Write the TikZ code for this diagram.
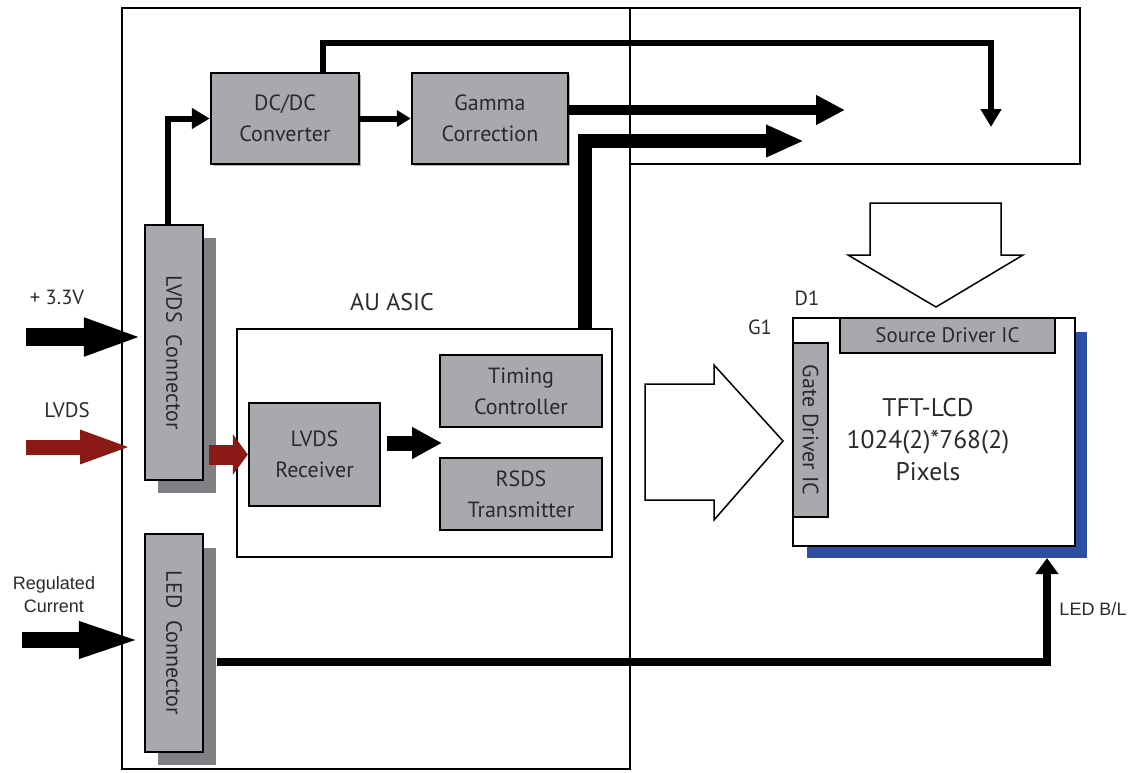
\documentclass[tikz,border=0pt]{standalone}
\usepackage{fontspec}
\setmainfont{PT Sans}
\newfontfamily\arialfont{Liberation Sans}
\usetikzlibrary{arrows.meta,calc}
\definecolor{boxgrey}{HTML}{A7A9AC}
\definecolor{shadegrey}{HTML}{7E8083}
\definecolor{lvdsred}{HTML}{8B1A17}
\definecolor{panelblue}{HTML}{2C4FA3}
\definecolor{txt}{HTML}{2A2A2A}
\begin{document}
\begin{tikzpicture}[x=1pt,y=-1pt,
  frame/.style={draw=black,line width=1.5pt},
  blk/.style={draw=black,line width=2.4pt,fill=boxgrey,align=center,inner sep=0pt,
    text=txt,font=\fontsize{22}{31}\selectfont},
  conn/.style={blk,rotate=-90,font=\fontsize{22}{24}\selectfont},
  lbl/.style={text=txt,inner sep=0pt,align=center},
  wire/.style={draw=black,line width=6pt},
  bigarr/.style={draw=black,line width=1.5pt,fill=white,line join=miter}
]
\useasboundingbox (0,0) rectangle (1138,772);

% frames
\draw[frame] (122,8) rectangle (630,769);
\draw[frame] (630,8) rectangle (1080,164);

% shadows
\fill[shadegrey] (158,238) rectangle (216,493);
\fill[shadegrey] (158,548) rectangle (216,765);
\fill[panelblue] (807,332) rectangle (1087,558);
\fill[black!30] (213,75) rectangle (361,166);
\fill[black!30] (414,75) rectangle (570,166);
\fill[black!30] (251,405) rectangle (382,508);
\fill[black!30] (442,357) rectangle (604,429);
\fill[black!30] (442,460) rectangle (604,532);

% blocks
\node[blk,minimum width=148,minimum height=91] (dcdc) at (285,118.5) {DC/DC\\Converter};
\node[blk,minimum width=156,minimum height=91] (gamma) at (490,118.5) {Gamma\\Correction};
\node[draw=black,line width=1.5pt,fill=white,minimum width=375,minimum height=228,inner sep=0pt] (asic) at (424.5,443) {};
\node[lbl,font=\fontsize{24}{26}\selectfont] (asiclbl) at (392,302) {AU ASIC};
\node[blk,minimum width=131,minimum height=103] (rx) at (314.5,454.5) {LVDS\\Receiver};
\node[blk,minimum width=162,minimum height=72] (tc) at (521,391) {Timing\\Controller};
\node[blk,minimum width=162,minimum height=72] (rsds) at (521,494) {RSDS\\Transmitter};
\node[conn,minimum width=255,minimum height=58] (lvdsconn) at (174,352.5) {LVDS\ \ Connector};
\node[conn,minimum width=218,minimum height=58] (ledconn) at (174,643) {LED\ \ Connector};

% panel
\node[draw=black,line width=2.4pt,fill=white,minimum width=282,minimum height=228,inner sep=0pt] (panel) at (934,432) {};
\node[blk,line width=2pt,minimum width=215,minimum height=35,font=\fontsize{21}{22}\selectfont] (src) at (947.5,335.5) {Source Driver IC};
\node[blk,line width=2pt,rotate=-90,minimum width=174,minimum height=35,font=\fontsize{22}{22}\selectfont] (gate) at (810.5,430) {Gate Driver IC};
\node[lbl,font=\fontsize{25.5}{32}\selectfont] (tft) at (928,440) {TFT-LCD\\1024(2)*768(2)\\Pixels};
\node[lbl,font=\fontsize{20.5}{22}\selectfont] (d1) at (807,298) {D1};
\node[lbl,font=\fontsize{20.5}{22}\selectfont] (g1) at (760,327) {G1};

% big hollow arrows
\draw[bigarr] (645,384) -- (714,384) -- (714,365) -- (783,441) -- (714,520) -- (714,500) -- (645,500) -- cycle;
\draw[bigarr] (870,203) -- (1001,203) -- (1001,255) -- (1023,255) -- (936,307) -- (848,255) -- (870,255) -- cycle;

% input labels
\node[lbl,font=\fontsize{20.5}{22}\selectfont] (l33) at (57,297) {+ 3.3V};
\node[lbl,font=\fontsize{21}{22}\selectfont] (llvds) at (67,410) {LVDS};
\node[lbl,font=\arialfont\fontsize{18}{23}\selectfont] (lreg) at (54,595) {Regulated\\Current};
\node[lbl,font=\arialfont\fontsize{18}{20}\selectfont] (lbl-led) at (1093,609) {LED B/L};

% coordinates for free ends
\coordinate (in33) at (26,337);
\coordinate (inlvds) at (26,447);
\coordinate (endlvds) at (133,447);
\coordinate (inreg) at (22,640);
\coordinate (topcorner) at (991,43);
\coordinate (topend) at (991,127);
\coordinate (gammaend) at (845,110);
\coordinate (thickcorner) at (585,141);
\coordinate (thickend) at (804,141);
\coordinate (rxend) at (442,443);
\coordinate (ledcorner) at (1047,662);

% input arrows (rotated connectors: south = left side, north = right side, west = top)
\draw[line width=18pt,-{Triangle[length=60pt,width=34pt]}] (in33) -- (in33 -| lvdsconn.south);
\draw[lvdsred,line width=15pt,-{Triangle[length=53pt,width=30pt]}] (inlvds) -- (endlvds);
\draw[line width=16pt,-{Triangle[length=65pt,width=32pt]}] (inreg) -- (inreg -| ledconn.south);

% internal connectors
\draw[wire,-{Triangle[length=18pt,width=20pt]}] ([xshift=-6pt]lvdsconn.west) |- (dcdc.west);
\draw[wire,-{Triangle[length=14pt,width=16pt]}] (dcdc.east) -- (gamma.west);
\draw[wire,-{Triangle[length=18pt,width=20pt]}] ([xshift=38pt]dcdc.north) |- (topcorner) -- (topend);
\draw[line width=10pt,-{Triangle[length=29pt,width=28pt]}] (gamma.east |- gammaend) -- (gammaend);
\draw[line width=14pt,-{Triangle[length=38pt,width=30pt]}] (asic.north -| thickcorner) -- (thickcorner) -- (thickend);
\draw[lvdsred,line width=20pt,shorten <=5pt,-{Triangle[length=15pt,width=40pt]}] (lvdsconn.north |- rx.west) -- (rx.west);
\draw[line width=15pt,shorten <=6pt,-{Triangle[length=30pt,width=30pt]}] (rx.east |- rxend) -- (rxend);
\draw[line width=8pt,shorten <=13pt,-{Triangle[length=16pt,width=22pt]}] (ledconn.north |- ledcorner) -- (ledcorner) -- (ledcorner |- 0,558);
\end{tikzpicture}
\end{document}
